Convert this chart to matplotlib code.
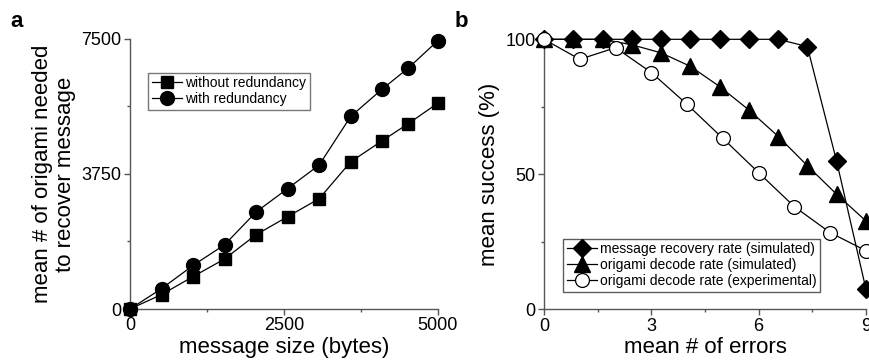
import matplotlib
matplotlib.use("Agg")
import matplotlib.pyplot as plt
from matplotlib.ticker import MultipleLocator

plt.rcParams['font.family'] = ['Liberation Sans', 'DejaVu Sans']

# Panel a data
msg_size = [0, 512, 1024, 1536, 2048, 2560, 3072, 3584, 4096, 4520, 5000]
without_red = [0, 400, 900, 1390, 2065, 2565, 3065, 4090, 4675, 5150, 5720]
with_red = [0, 565, 1210, 1785, 2695, 3345, 4000, 5350, 6110, 6695, 7455]

# Panel b data
err_sim = [0, 0.82, 1.64, 2.45, 3.27, 4.09, 4.91, 5.73, 6.55, 7.36, 8.18, 9.0]
msg_recovery = [100, 100, 100, 100, 100, 100, 100, 100, 100, 97.3, 54.8, 7.4]
decode_sim = [100, 100, 100, 98, 95, 90, 82.5, 73.8, 64, 53.2, 42.6, 32.7]
err_exp = [0, 1, 2, 3, 4, 5, 6, 7, 8, 9]
decode_exp = [100, 92.6, 96.9, 87.7, 75.9, 63.3, 50.6, 38, 28.4, 21.7]

fig = plt.figure(figsize=(8.7, 3.62), dpi=100)
axa = fig.add_axes([0.1494, 0.1464, 0.354, 0.7459])
axb = fig.add_axes([0.6253, 0.1455, 0.3701, 0.7459])

spine_col = '#555555'
for ax in (axa, axb):
    ax.spines['top'].set_visible(False)
    ax.spines['right'].set_visible(False)
    for s in ('left', 'bottom'):
        ax.spines[s].set_color(spine_col)
        ax.spines[s].set_linewidth(1.0)
    ax.tick_params(which='major', direction='out', length=4, width=1, color=spine_col,
                   labelsize=13, pad=2)
    ax.tick_params(which='minor', direction='out', length=2.5, width=1, color=spine_col)

axa.plot(msg_size, without_red, color='black', lw=0.9, marker='s', ms=9,
         label='without redundancy', clip_on=False, zorder=3)
axa.plot(msg_size, with_red, color='black', lw=0.9, marker='o', ms=10,
         label='with redundancy', clip_on=False, zorder=3)
axa.set_xlim(0, 5000)
axa.set_ylim(0, 7500)
axa.set_xticks([0, 2500, 5000])
axa.set_yticks([0, 3750, 7500])
axa.xaxis.set_minor_locator(MultipleLocator(1250))
axa.yaxis.set_minor_locator(MultipleLocator(1875))
axa.set_xlabel('message size (bytes)', fontsize=16, labelpad=2)
axa.set_ylabel('mean # of origami needed\nto recover message', fontsize=16, labelpad=4,
               linespacing=1.15)
leg = axa.legend(loc='upper left', bbox_to_anchor=(0.06, 0.875), fontsize=10,
                 frameon=True, fancybox=False, edgecolor='#555555', borderpad=0.25,
                 handlelength=2.2, handletextpad=0.2, labelspacing=0.15, borderaxespad=0)
leg.get_frame().set_linewidth(1.0)

axb.plot(err_sim, msg_recovery, color='black', lw=0.9, marker='D', ms=9,
         label='message recovery rate (simulated)', clip_on=False, zorder=4)
axb.plot(err_sim, decode_sim, color='black', lw=0.9, marker='^', ms=11,
         label='origami decode rate (simulated)', clip_on=False, zorder=3)
axb.plot(err_exp, decode_exp, color='black', lw=0.9, marker='o', ms=10,
         markerfacecolor='white', markeredgewidth=0.9,
         label='origami decode rate (experimental)', clip_on=False, zorder=5)
axb.set_xlim(0, 9)
axb.set_ylim(0, 100)
axb.set_xticks([0, 3, 6, 9])
axb.set_yticks([0, 50, 100])
axb.xaxis.set_minor_locator(MultipleLocator(1.5))
axb.yaxis.set_minor_locator(MultipleLocator(25))
axb.set_xlabel('mean # of errors', fontsize=16, labelpad=2)
axb.set_ylabel('mean success (%)', fontsize=16, labelpad=4)
legb = axb.legend(loc='lower left', bbox_to_anchor=(0.06, 0.065), fontsize=10,
                  frameon=True, fancybox=False, edgecolor='#333333', borderpad=0.25,
                  handlelength=2.2, handletextpad=0.2, labelspacing=0.15, borderaxespad=0)
legb.get_frame().set_linewidth(1.0)

fig.text(0.012, 0.925, 'a', fontsize=16, fontweight='bold')
fig.text(0.523, 0.925, 'b', fontsize=16, fontweight='bold')

fig.savefig('out.png', dpi=100)
